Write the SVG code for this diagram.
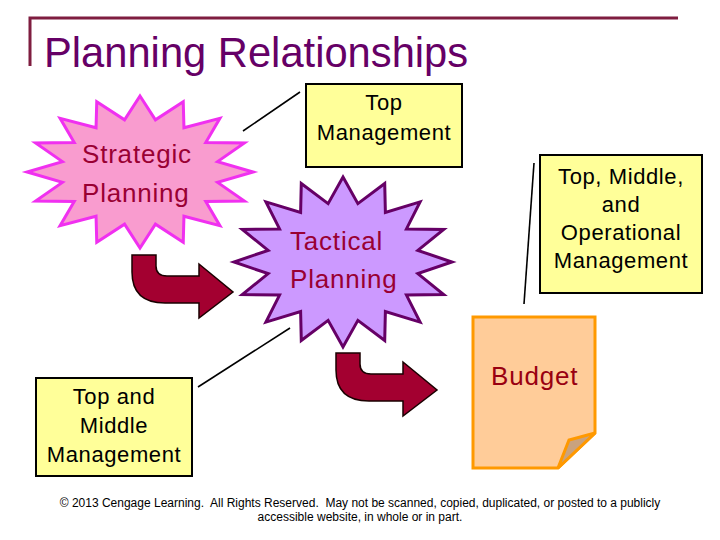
<svg xmlns="http://www.w3.org/2000/svg" xmlns:xlink="http://www.w3.org/1999/xlink" width="720" height="540" viewBox="0 0 720 540">
<style>
text{font-family:"Liberation Sans",Arial,sans-serif}
.title{font-size:41.7px;fill:#660066}
.frame{fill:none;stroke:#7f1d40;stroke-width:3}
.star-text{font-size:26px;fill:#990033;letter-spacing:0.8px}
.box{fill:#ffff99;stroke:#000;stroke-width:2}
.box-text{font-size:22px;fill:#000;text-anchor:middle;letter-spacing:0.6px}
.strat{fill:#f99ccf;stroke:#f030f0;stroke-width:3}
.tact{fill:#cc99ff;stroke:#660066;stroke-width:3}
.arrow{fill:#a30030;stroke:#1a0000;stroke-width:1.5;stroke-linejoin:miter}
.conn{stroke:#000;stroke-width:1.6;fill:none}
.note{fill:#ffcc99;stroke:#ff9900;stroke-width:3;stroke-linejoin:miter}
.flap{fill:#c9a27e;stroke:#ff9900;stroke-width:3;stroke-linejoin:miter}
.budget{font-size:26px;fill:#990011;letter-spacing:0.8px}
.copy{font-size:12px;fill:#000;text-anchor:middle;white-space:pre}
</style>
<defs>
<polygon id="star16" vector-effect="non-scaling-stroke" points="0,-100 13.66,-68.66 38.27,-92.39 38.89,-58.21 70.71,-70.71 58.21,-38.89 92.39,-38.27 68.66,-13.66 100,0 68.66,13.66 92.39,38.27 58.21,38.89 70.71,70.71 38.89,58.21 38.27,92.39 13.66,68.66 0,100 -13.66,68.66 -38.27,92.39 -38.89,58.21 -70.71,70.71 -58.21,38.89 -92.39,38.27 -68.66,13.66 -100,0 -68.66,-13.66 -92.39,-38.27 -58.21,-38.89 -70.71,-70.71 -38.89,-58.21 -38.27,-92.39 -13.66,-68.66"/>
<path id="bentArrow" d="M132,255 H156 V266 Q156,276 167,276 H199 V264 L233,292 L199,318 V303 H165 Q132,303 132,272 Z"/>
</defs>

<g id="title">
<polyline class="frame" points="30,66 30,18 678,18"/>
<text class="title" x="44" y="67">Planning Relationships</text>
</g>

<g id="connectors">
<line class="conn" x1="243" y1="131" x2="300" y2="92"/>
<line class="conn" x1="534" y1="163" x2="524" y2="304"/>
<line class="conn" x1="198" y1="387" x2="290" y2="328"/>
<use xlink:href="#bentArrow" class="arrow"/>
<use xlink:href="#bentArrow" class="arrow" transform="translate(204,98)"/>
</g>

<g id="strategic-planning">
<use xlink:href="#star16" class="strat" transform="translate(140,172) scale(1.13,0.76)"/>
<text class="star-text" x="82" y="163">Strategic</text>
<text class="star-text" x="82" y="202">Planning</text>
</g>

<g id="tactical-planning">
<use xlink:href="#star16" class="tact" transform="translate(343,262) scale(1.09,0.85)"/>
<text class="star-text" x="290" y="250">Tactical</text>
<text class="star-text" x="290" y="288">Planning</text>
</g>

<g id="top-management">
<rect class="box" x="306" y="84" width="156" height="83"/>
<text class="box-text" x="384" y="110">Top</text>
<text class="box-text" x="384" y="140">Management</text>
</g>

<g id="top-middle-operational">
<rect class="box" x="540" y="155" width="162" height="138"/>
<text class="box-text" x="621" y="184">Top, Middle,</text>
<text class="box-text" x="621" y="212">and</text>
<text class="box-text" x="621" y="240">Operational</text>
<text class="box-text" x="621" y="268">Management</text>
</g>

<g id="top-middle">
<rect class="box" x="36" y="378" width="156" height="98"/>
<text class="box-text" x="114" y="404">Top and</text>
<text class="box-text" x="114" y="433">Middle</text>
<text class="box-text" x="114" y="462">Management</text>
</g>

<g id="budget">
<path class="note" d="M473,317 H595 V433 L558,468 H473 Z"/>
<path class="flap" d="M595,433 L569,440 L558,468 Z"/>
<text class="budget" x="491" y="385">Budget</text>
</g>

<g id="copyright">
<text class="copy" x="360" y="507">© 2013 Cengage Learning.  All Rights Reserved.  May not be scanned, copied, duplicated, or posted to a publicly</text>
<text class="copy" x="360" y="521">accessible website, in whole or in part.</text>
</g>
</svg>
